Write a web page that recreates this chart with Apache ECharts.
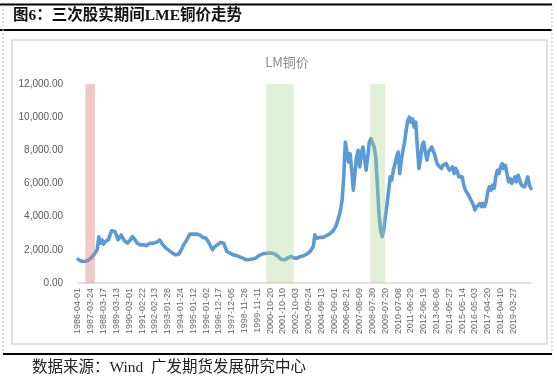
<!DOCTYPE html>
<html>
<head>
<meta charset="utf-8">
<script src="https://cdn.jsdelivr.net/npm/echarts@6/dist/echarts.min.js"></script>
<style>
html,body{margin:0;padding:0;background:#fff;}
#c{width:557px;height:381px;}
</style>
</head>
<body>
<div id="c"></div>
<script>
// tick labels (one every 8 data points)
const dateLabels = ['1986-04-01','1987-03-24','1988-03-17','1989-03-13','1990-03-01','1991-02-22','1992-02-13','1993-01-28','1994-01-24','1995-01-12','1996-01-02','1996-12-17','1997-12-05','1998-11-26','1999-11-11','2000-10-20','2001-10-10','2002-10-03','2003-09-24','2004-09-13','2005-09-01','2006-08-21','2007-08-09','2008-07-30','2009-07-20','2010-07-08','2011-06-29','2012-06-19','2013-06-06','2014-05-27','2015-05-14','2016-05-03','2017-04-20','2018-04-10','2019-03-27'];
const pointsPerLabel = 8;

// LME copper, USD/t
const copper1986to1995 = [
  1430,1380,1320,1290,1300,1320,1350,1420,
  1500,1600,1720,1800,2000,2790,2400,2600,
  2350,2500,2400,2600,2900,3150,3250,3100,
  2900,2600,2750,2900,2700,2550,2450,2400,
  2500,2650,2800,2750,2550,2400,2350,2300,
  2350,2300,2300,2250,2350,2400,2450,2400,
  2400,2450,2500,2600,2450,2300,2200,2100,
  2000,1950,1900,1800,1750,1700,1700,1750,
  1900,2100,2300,2400,2600,2800,2950,3000,
  2950,2900,2950,3000,2900,2850,2750,2650
];
const copper1996to2005 = [
  2700,2600,2400,2200,2000,2150,2250,2300,
  2350,2450,2500,2400,2150,1900,1850,1800,
  1750,1700,1650,1650,1600,1580,1550,1500,
  1450,1400,1380,1420,1400,1450,1420,1500,
  1550,1650,1700,1750,1800,1780,1850,1800,
  1850,1800,1780,1750,1700,1600,1500,1420,
  1380,1400,1450,1500,1550,1600,1550,1500,
  1480,1500,1550,1600,1620,1650,1700,1750,
  1800,1900,2000,2200,2900,2700,2600,2750,
  2700,2750,2800,2850,2900,2950,3000,3100
];
const copper2005to2020 = [
  3200,3400,3700,4000,4400,5000,6400,8500,
  8600,7300,7800,6800,5600,5500,7600,8000,
  7000,7800,8200,7500,6800,7600,8500,8700,
  8800,8200,7600,6000,4200,3200,2800,3200,
  4000,4700,5500,6400,6200,6800,7200,7600,
  7900,6600,7400,8000,8500,9200,9800,10000,
  9700,9900,9400,9700,8200,6900,7500,8300,
  8500,7900,7400,7900,8000,8200,8200,7700,
  7300,7100,7200,6900,7100,7000,7200,7000,
  6800,6700,7000,6600,6900,6700,6400,6300,
  6400,5900,5600,5700,5300,5100,4900,4700,
  4400,4600,4700,4800,4600,4800,4600,4900,
  5500,5800,5600,5900,5700,6400,6800,6600,
  7000,7200,6900,7100,6600,6100,6300,6000,
  6200,6400,6100,6500,6200,5900,6000,5800,
  6100,6400,5900,5700
];

// shaded periods, as positions along the data index
const crashBand = [4.6, 10.6];
const bandsGreen = [[117.5, 134.8], [182.5, 191.9]];

const values = copper1986to1995.concat(copper1996to2005, copper2005to2020);
const categories = values.map((v, i) => {
  const k = Math.floor(i / pointsPerLabel);
  if (i % pointsPerLabel === 0 && k < dateLabels.length) return dateLabels[k];
  return 'p' + i;
});
const lastIdx = values.length - 1;

const chart = echarts.init(document.getElementById('c'), null, {renderer: 'canvas'});
const fmt = v => v.toLocaleString('en-US', {minimumFractionDigits: 2, maximumFractionDigits: 2});

chart.setOption({
  animation: false,
  backgroundColor: '#fff',
  title: {
    text: 'LM铜价',
    left: 282, top: 51, textAlign: 'center',
    textStyle: {fontSize: 13, fontWeight: 'normal', color: '#8a8a8a', fontFamily: 'Noto Sans CJK SC'}
  },
  grid: {left: 78, right: 26, top: 84, bottom: 98, containLabel: false},
  xAxis: [{
    type: 'category',
    data: categories,
    boundaryGap: false,
    axisLine: {lineStyle: {color: '#d9d9d9', width: 1.5}},
    axisTick: {show: false},
    axisLabel: {
      rotate: 90, fontSize: 9, color: '#666', fontFamily: 'Liberation Sans', margin: 5,
      interval: (idx) => idx % pointsPerLabel === 0 && idx / pointsPerLabel < dateLabels.length
    },
    splitLine: {show: false}
  }, {
    type: 'value', min: 0, max: lastIdx, show: false
  }],
  yAxis: {
    type: 'value', min: 0, max: 12000, interval: 2000,
    axisLine: {show: false}, axisTick: {show: false}, splitLine: {show: false},
    axisLabel: {fontSize: 10, color: '#595959', fontFamily: 'Liberation Sans', margin: 15, formatter: fmt}
  },
  series: [{
    type: 'line', data: values, xAxisIndex: 0, symbol: 'none', z: 2,
    lineStyle: {color: '#5b9bd5', width: 3.6, join: 'round', cap: 'round'}
  }, {
    type: 'line', xAxisIndex: 1, data: [[0, 0]], symbol: 'none', z: 10, clip: false,
    lineStyle: {opacity: 0}, silent: true,
    markArea: {
      silent: true, z: 10,
      data: [
        [{coord: [crashBand[0], 0], itemStyle: {color: 'rgba(220,120,120,0.4)'}}, {coord: [crashBand[1], 12150]}],
        [{coord: [bandsGreen[0][0], 0], itemStyle: {color: 'rgba(170,210,140,0.35)'}}, {coord: [bandsGreen[0][1], 12150]}],
        [{coord: [bandsGreen[1][0], 0], itemStyle: {color: 'rgba(170,210,140,0.35)'}}, {coord: [bandsGreen[1][1], 12150]}]
      ]
    }
  }],
  graphic: [
    {type: 'line', shape: {x1: 0, y1: 4.5, x2: 552, y2: 4.5}, style: {stroke: '#000', lineWidth: 2}},
    {type: 'line', shape: {x1: 0, y1: 30, x2: 552, y2: 30}, style: {stroke: '#000', lineWidth: 2}},
    {type: 'line', shape: {x1: 3, y1: 5, x2: 3, y2: 354}, style: {stroke: '#bbb', lineWidth: 1, lineDash: [2, 2]}},
    {type: 'line', shape: {x1: 552, y1: 5, x2: 552, y2: 354}, style: {stroke: '#bbb', lineWidth: 1, lineDash: [2, 2]}},
    {type: 'rect', shape: {x: 12, y: 40, width: 535, height: 304}, style: {fill: 'none', stroke: '#d9d9d9', lineWidth: 1.5}},
    {type: 'line', shape: {x1: 3, y1: 354, x2: 552, y2: 354}, style: {stroke: '#000', lineWidth: 2}},
    {type: 'text', left: 13, top: 8, style: {text: '图6：三次股实期间LME铜价走势', fontSize: 15.5, fontWeight: 'bold', fill: '#111', fontFamily: 'Liberation Serif, Noto Sans CJK SC'}},
    {type: 'text', left: 32, top: 360, style: {text: '数据来源：Wind  广发期货发展研究中心', fontSize: 15.5, fill: '#222', fontFamily: 'Liberation Serif, Noto Sans CJK SC'}}
  ]
});
</script>
</body>
</html>
